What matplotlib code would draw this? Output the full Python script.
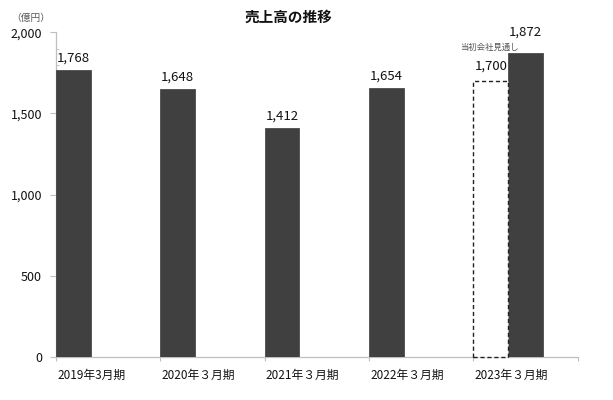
import matplotlib
matplotlib.use("Agg")
import matplotlib.pyplot as plt
from matplotlib.ticker import MultipleLocator, FuncFormatter
from matplotlib.transforms import blended_transform_factory

plt.rcParams['font.family'] = ['Noto Sans CJK JP', 'DejaVu Sans']

categories = ['2019年3月期', '2020年３月期', '2021年３月期', '2022年３月期', '2023年３月期']
sales = [1768, 1648, 1412, 1654, 1872]
forecast_2023 = 1700
forecast_label = '当初会社見通し'
title = '売上高の推移'
unit_label = '（億円）'

fig = plt.figure(figsize=(6.13, 4.0), dpi=100)
ax = fig.add_axes([56/613, 1 - 356.7/400, (577.7 - 56)/613, (356.7 - 32.3)/400])

bw = 1/3
bar_color = '#404040'
n = len(categories)
xs = []
for i, v in enumerate(sales):
    x = i + (bw if i == n - 1 else 0)
    xs.append(x)
    ax.bar(x, v, width=bw, align='edge', color=bar_color, edgecolor='#3a3a3a', linewidth=0.5, zorder=3)

# forecast dashed bar for last category
fb = ax.bar(n - 1, forecast_2023, width=bw, align='edge', facecolor='white', edgecolor='#222222',
            linewidth=1.0, linestyle=(0, (3, 2)), zorder=4)
for p in fb:
    p.set_clip_on(False)

# value labels
for i, (x, v) in enumerate(zip(xs, sales)):
    off = 15 if i == n - 1 else 8.5
    ax.annotate(f'{v:,}', (x + bw/2, v), xytext=(0, off), textcoords='offset points',
                ha='center', va='center', fontsize=9.5, color='#111111', annotation_clip=False)
ax.annotate(f'{forecast_2023:,}', (n - 1 + bw/2, forecast_2023), xytext=(0, 10.5), textcoords='offset points',
            ha='center', va='center', fontsize=9.5, color='#111111', annotation_clip=False)
ax.text(n - 1 + 0.15, 1906, forecast_label, ha='center', va='center', fontsize=6, color='#555555')

ax.set_xlim(0, n)
ax.set_ylim(0, 2000)

# spines
for s in ['top', 'right']:
    ax.spines[s].set_visible(False)
for s in ['left', 'bottom']:
    ax.spines[s].set_color('#bfbfbf')
    ax.spines[s].set_linewidth(0.9)

ax.yaxis.set_major_locator(MultipleLocator(500))
ax.yaxis.set_minor_locator(MultipleLocator(100))
ax.yaxis.set_major_formatter(FuncFormatter(lambda v, p: f'{int(v):,}'))
ax.tick_params(axis='y', which='major', length=4, color='#bfbfbf', labelsize=9, pad=6, labelcolor='#111111')
ax.tick_params(axis='y', which='minor', length=2.5, direction='in', color='#bfbfbf')

ax.set_xticks(range(n + 1))
ax.set_xticklabels([''] * (n + 1))
ax.tick_params(axis='x', which='major', length=3, color='#bfbfbf')

trans = blended_transform_factory(ax.transData, ax.transAxes)
for i, c in enumerate(categories):
    ax.text(i + 0.01, -0.058, c, transform=trans, ha='left', va='center', fontsize=8.5, color='#111111')

fig.text(288/613, 1 - 16.5/400, title, ha='center', va='center', fontsize=10.5, fontweight='bold', color='#111111')
fig.text(31/613, 1 - 17.5/400, unit_label, ha='center', va='center', fontsize=7, color='#555555')

fig.savefig('out.png', dpi=100, facecolor='white')
